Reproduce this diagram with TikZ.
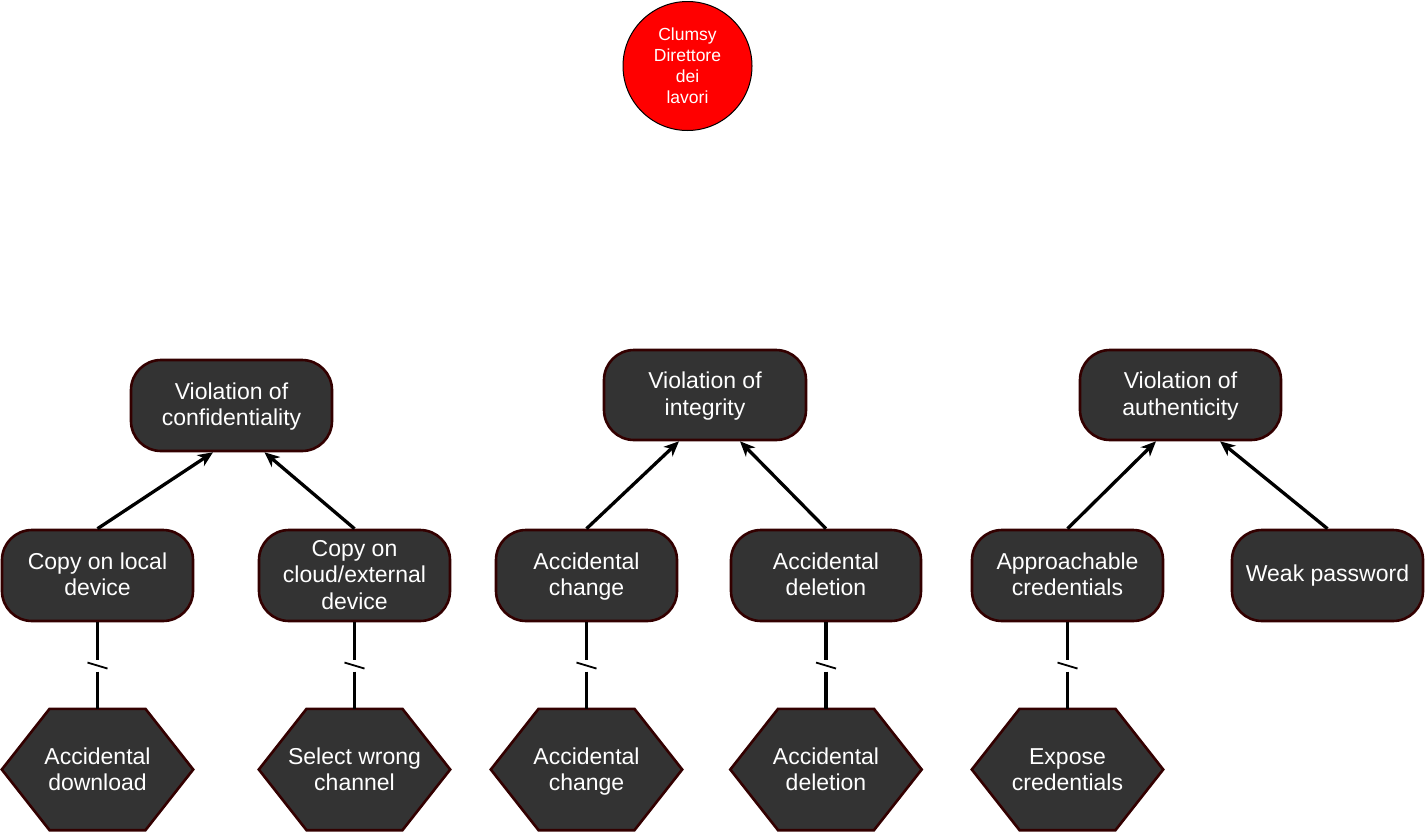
\documentclass[tikz,border=0pt]{standalone}
\usepackage{fontspec}
\setmainfont{Liberation Sans}
\usetikzlibrary{arrows.meta,calc,backgrounds}
\definecolor{boxfill}{HTML}{333333}
\definecolor{boxline}{HTML}{330000}
\newcommand{\tA}{\rule{0pt}{22.3pt}}
\newcommand{\tH}{\rule{0pt}{24.3pt}}
\begin{document}
\begin{tikzpicture}[x=1pt,y=-1pt,
  txt/.style={inner sep=0pt, align=center, text=white,
    font=\fontsize{23}{26.4}\selectfont},
  box/.style={txt, draw=boxline, line width=2.6pt, fill=boxfill, rounded corners=30pt,
    minimum width=191pt, minimum height=91pt},
  hexa/.style={txt, rectangle, minimum width=191pt, minimum height=121pt},
  hexline/.style={draw=boxline, line width=2.6pt, fill=boxfill},
  goal/.style={circle, draw=black, line width=1pt, fill=red, minimum size=129pt,
    inner sep=0pt, align=center, text=white, font=\fontsize{17.5}{21}\selectfont},
  arr/.style={line width=3.3pt, -{Stealth[length=15pt,width=13pt,inset=4.5pt]}},
  brk/.style={line width=3.3pt, to path={(\tikztostart) -- ($(\tikztostart)!0.5!(\tikztotarget)+(0,-6)$)
     ($(\tikztostart)!0.5!(\tikztotarget)+(0,6)$) -- (\tikztotarget)}},
  slash/.style={line width=1.8pt}
]
\useasboundingbox (0,0) rectangle (1425,833);

\node[goal] (c) at (687.5,66) {Clumsy\\Direttore\\dei\\lavori};

\node[box, minimum width=201pt] (vc) at (231.5,405.5) {\tA Violation of\\confidentiality\strut};
\node[box, minimum width=202pt, minimum height=90pt] (vi) at (705,395) {\tA Violation of\\integrity\strut};
\node[box, minimum width=201pt, minimum height=90pt] (va) at (1180.5,395) {\tA Violation of\\authenticity\strut};

\node[box] (b1) at (97.5,575.5) {\tA Copy on local\\device\strut};
\node[box] (b2) at (354.5,575.5) {\tA Copy on\\cloud/external\\device\strut};
\node[box, minimum width=181pt] (b3) at (586.5,575.5) {\tA Accidental\\change\strut};
\node[box, minimum width=190pt] (b4) at (826,575.5) {\tA Accidental\\deletion\strut};
\node[box] (b5) at (1067.5,575.5) {\tA Approachable\\credentials\strut};
\node[box] (b6) at (1327.5,575.5) {Weak password};

\node[hexa] (h1) at (97.5,769.5) {\tH Accidental\\download\strut};
\node[hexa] (h2) at (354.5,769.5) {\tH Select wrong\\channel\strut};
\node[hexa] (h3) at (586.5,769.5) {\tH Accidental\\change\strut};
\node[hexa] (h4) at (826,769.5) {\tH Accidental\\deletion\strut};
\node[hexa] (h5) at (1067.5,769.5) {\tH Expose\\credentials\strut};

\begin{scope}[on background layer]
\foreach \h in {h1,h2,h3,h4,h5}{
  \path[hexline] (\h.west) -- ($(\h.north west)+(47.75,0)$) -- ($(\h.north east)+(-47.75,0)$)
    -- (\h.east) -- ($(\h.south east)+(-47.75,0)$) -- ($(\h.south west)+(47.75,0)$) -- cycle;
}
\end{scope}

\draw[arr] (b1.north) -- ([xshift=-18.5pt]vc.south);
\draw[arr] (b2.north) -- ([xshift=33pt]vc.south);
\draw[arr] (b3.north) -- ([xshift=-26pt]vi.south);
\draw[arr] (b4.north) -- ([xshift=35pt]vi.south);
\draw[arr] (b5.north) -- ([xshift=-24.5pt]va.south);
\draw[arr] (b6.north) -- ([xshift=39.5pt]va.south);

\foreach \a/\b in {b1/h1,b2/h2,b3/h3,b4/h4,b5/h5}{
  \draw[brk] (\a.south) to (\b.north);
  \draw[slash] ($(\a.south)!0.5!(\b.north)+(-10,-3)$) -- ($(\a.south)!0.5!(\b.north)+(10,3)$);
}
\end{tikzpicture}
\end{document}
